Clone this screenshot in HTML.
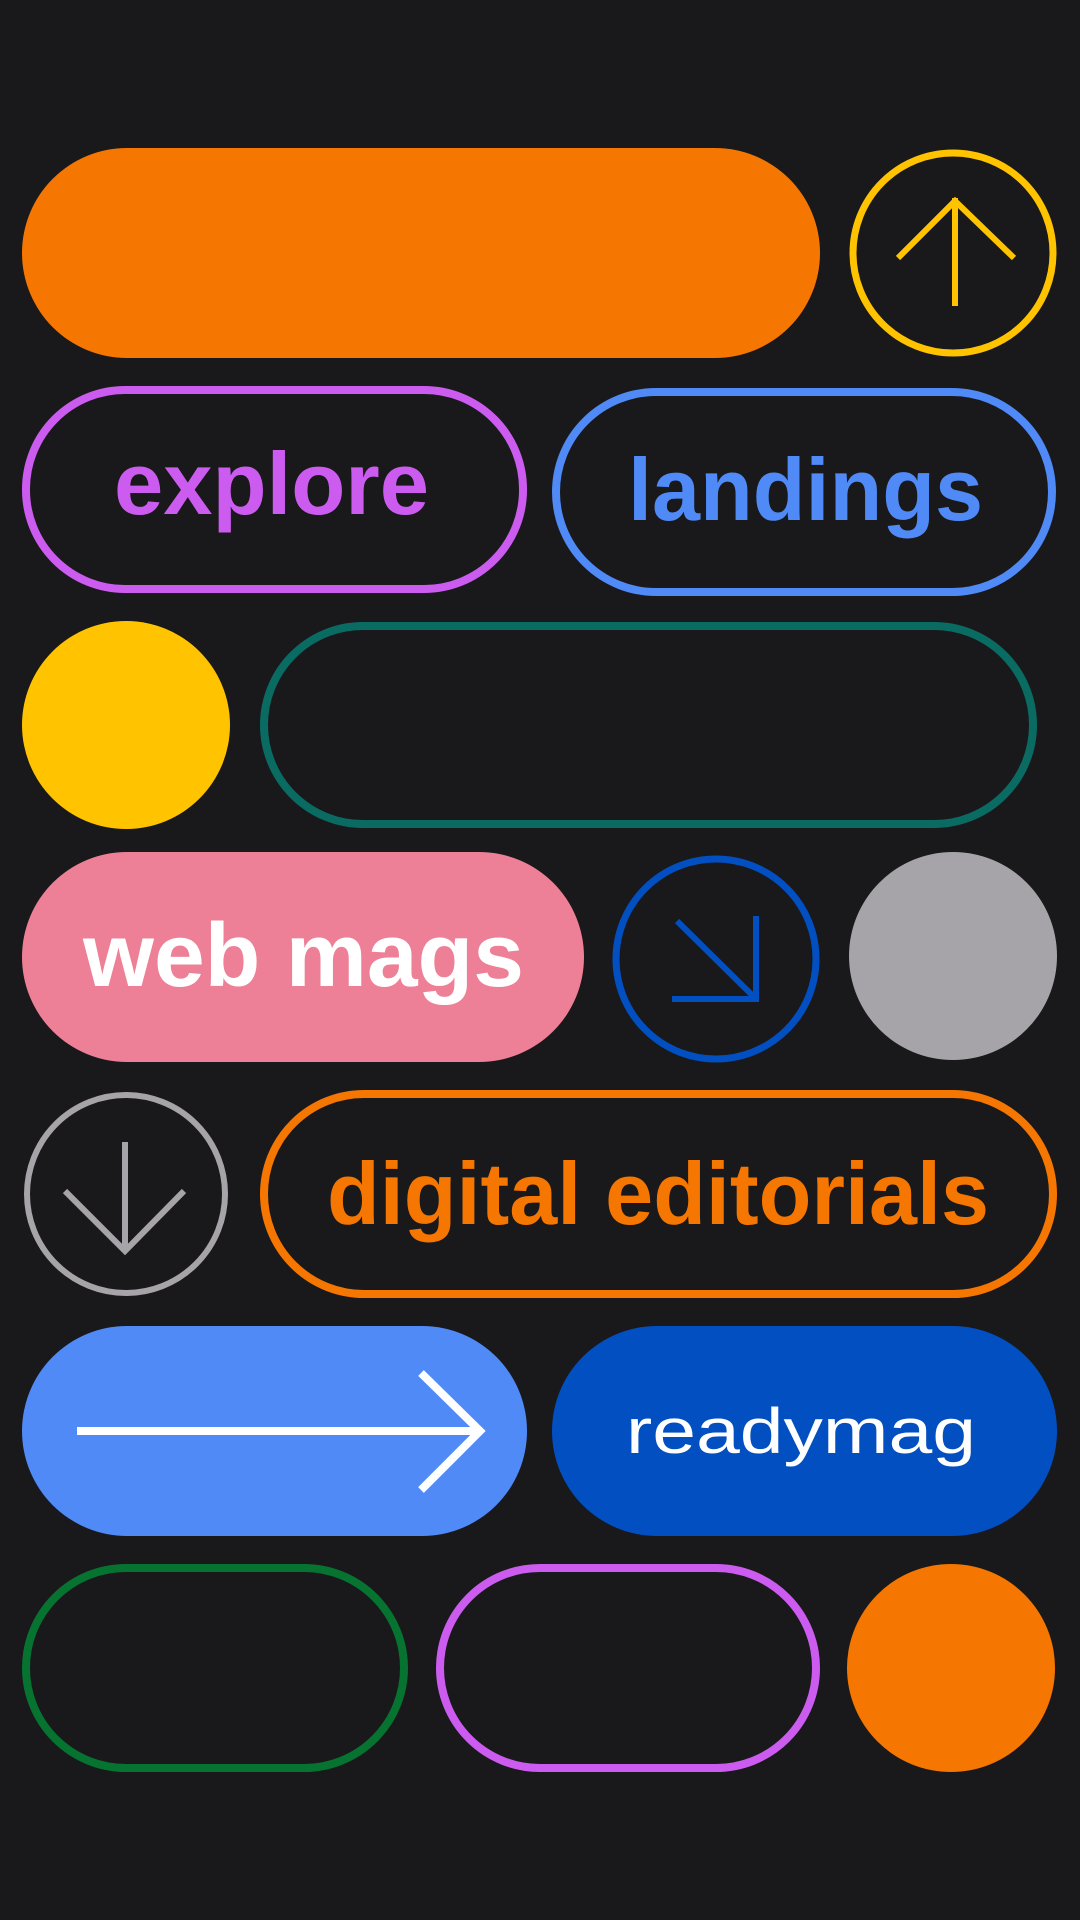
<!DOCTYPE html>
<html><head><style>html,body{margin:0;padding:0;background:#19181a;}svg{display:block}</style></head>
<body>
<svg width="1080" height="1920" viewBox="0 0 1080 1920" xmlns="http://www.w3.org/2000/svg" font-family="Liberation Sans, sans-serif">
<rect width="1080" height="1920" fill="#19181a"/>
<!-- row1 -->
<rect x="22" y="148" width="798" height="210" rx="105" fill="#f57600"/>
<circle cx="953" cy="253" r="100" fill="none" stroke="#ffc300" stroke-width="7"/>
<g stroke="#ffc300" stroke-width="6" fill="none"><line x1="955" y1="198" x2="955" y2="306"/><polyline points="898,258 955,201 1014,258"/></g>
<!-- row2 -->
<rect x="26" y="390" width="497" height="199" rx="99" fill="none" stroke="#cc5cf0" stroke-width="8"/>
<text x="114" y="514" font-size="88" font-weight="bold" fill="#cc5cf0" textLength="315" lengthAdjust="spacingAndGlyphs">explore</text>
<rect x="556" y="392" width="496" height="200" rx="100" fill="none" stroke="#4f8af7" stroke-width="8"/>
<text x="628" y="520" font-size="88" font-weight="bold" fill="#4f8af7" textLength="355" lengthAdjust="spacingAndGlyphs">landings</text>
<!-- row3 -->
<circle cx="126" cy="725" r="104" fill="#ffc300"/>
<rect x="264" y="626" width="769" height="198" rx="99" fill="none" stroke="#0a6b63" stroke-width="8"/>
<!-- row4 -->
<rect x="22" y="852" width="562" height="210" rx="105" fill="#ed8096"/>
<text x="83" y="986" font-size="90" font-weight="bold" fill="#fff" textLength="441" lengthAdjust="spacingAndGlyphs">web mags</text>
<circle cx="716" cy="959" r="100" fill="none" stroke="#024fc2" stroke-width="7"/>
<g stroke="#024fc2" stroke-width="6" fill="none"><line x1="677" y1="921" x2="754" y2="997"/><polyline points="756,916 756,999 672,999"/></g>
<circle cx="953" cy="956" r="104" fill="#a6a4a8"/>
<!-- row5 -->
<circle cx="126" cy="1194" r="99" fill="none" stroke="#a6a4a8" stroke-width="6"/>
<g stroke="#a6a4a8" stroke-width="6" fill="none"><line x1="125" y1="1142" x2="125" y2="1251"/><polyline points="65,1191 125,1251 184,1191"/></g>
<rect x="264" y="1094" width="789" height="200" rx="100" fill="none" stroke="#f57600" stroke-width="8"/>
<text x="327" y="1224" font-size="88" font-weight="bold" fill="#f57600" textLength="662" lengthAdjust="spacingAndGlyphs">digital editorials</text>
<!-- row6 -->
<rect x="22" y="1326" width="505" height="210" rx="105" fill="#4f8af7"/>
<g stroke="#fff" stroke-width="8" fill="none"><line x1="77" y1="1431" x2="482" y2="1431"/><polyline points="421,1373 480,1431 421,1490"/></g>
<rect x="552" y="1326" width="505" height="210" rx="105" fill="#024fc2"/>
<text x="626" y="1453" font-size="64" fill="#fff" textLength="350" lengthAdjust="spacingAndGlyphs">readymag</text>
<!-- row7 -->
<rect x="26" y="1568" width="378" height="200" rx="100" fill="none" stroke="#067330" stroke-width="8"/>
<rect x="440" y="1568" width="376" height="200" rx="100" fill="none" stroke="#cc5cf0" stroke-width="8"/>
<circle cx="951" cy="1668" r="104" fill="#f57600"/>
</svg>
</body></html>
